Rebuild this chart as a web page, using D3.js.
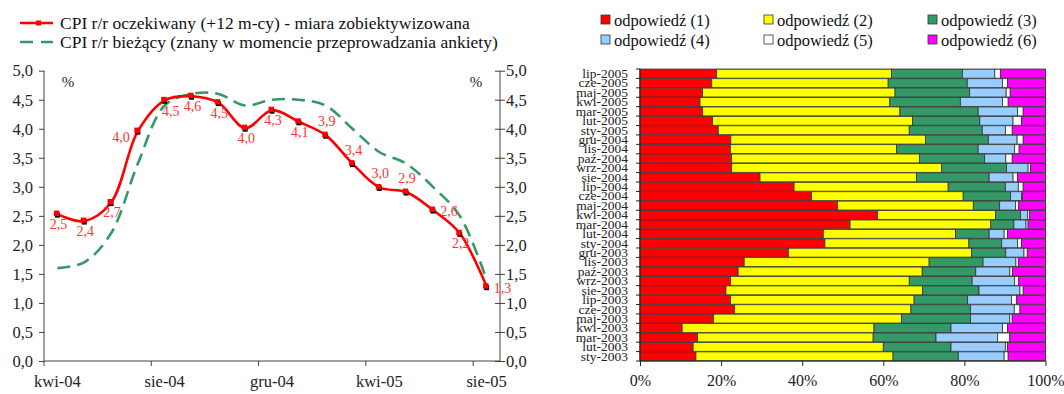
<!DOCTYPE html>
<html>
<head>
<meta charset="utf-8">
<script src="https://cdn.jsdelivr.net/npm/d3@7"></script>
<style>
  body { margin: 0; background: #fff; }
  svg { display: block; }
</style>
</head>
<body>
<svg id="chart" width="1064" height="394"></svg>
<script>
// left chart: CPI expectations
const months = ["kwi-04", "maj-04", "cze-04", "lip-04", "sie-04", "wrz-04", "paz-04", "lis-04",
  "gru-04", "sty-05", "lut-05", "mar-05", "kwi-05", "maj-05", "cze-05", "lip-05", "sie-05"];
const monthTicks = ["kwi-04", "sie-04", "gru-04", "kwi-05", "sie-05"];
const cpiExpected = [2.53, 2.41, 2.73, 3.96, 4.49, 4.56, 4.45, 4.01, 4.32, 4.12, 3.89, 3.4, 2.99, 2.91, 2.6, 2.2, 1.28];
const cpiCurrent = [1.6, 1.7, 2.2, 3.4, 4.4, 4.6, 4.6, 4.4, 4.5, 4.5, 4.4, 4.0, 3.6, 3.4, 3.0, 2.5, 1.4];
const labelPos = ["below", "below", "below", "left", "belowRight", "below", "below", "below",
  "below", "below", "above", "above", "above", "above", "right", "below", "right"];

// right chart: answers structure
const surveys = ["sty-2003", "lut-2003", "mar-2003", "kwi-2003", "maj-2003", "cze-2003", "lip-2003",
  "sie-2003", "wrz-2003", "paź-2003", "lis-2003", "gru-2003", "sty-2004", "lut-2004", "mar-2004",
  "kwi-2004", "maj-2004", "cze-2004", "lip-2004", "sie-2004", "wrz-2004", "paź-2004", "lis-2004",
  "gru-2004", "sty-2005", "lut-2005", "mar-2005", "kwi-2005", "maj-2005", "cze-2005", "lip-2005"];
const answerNames = ["odpowiedź (1)", "odpowiedź (2)", "odpowiedź (3)", "odpowiedź (4)", "odpowiedź (5)", "odpowiedź (6)"];
const ans1 = [13.8, 13.1, 14.2, 10.4, 18.1, 23.3, 22.3, 21.2, 22.3, 24.2, 25.7, 36.6, 45.6, 45.2, 51.8,
  58.6, 48.7, 42.3, 38.0, 29.6, 22.6, 22.6, 22.3, 22.4, 19.3, 17.9, 15.4, 14.8, 15.4, 17.7, 18.9];
const ans2 = [48.6, 46.9, 43.3, 47.3, 46.4, 43.5, 45.3, 48.5, 44.1, 45.4, 45.6, 45.2, 35.5, 32.6, 34.7,
  29.1, 33.5, 37.4, 38.0, 38.6, 51.8, 46.3, 41.0, 48.0, 47.1, 49.3, 48.7, 46.8, 47.5, 43.5, 43.1];
const ans3 = [16.1, 16.7, 15.5, 19.0, 17.0, 14.7, 13.2, 13.9, 15.5, 13.2, 13.3, 8.4, 8.1, 8.3, 5.7,
  6.1, 6.5, 11.7, 14.1, 17.9, 16.0, 16.1, 20.1, 15.5, 18.0, 16.6, 19.3, 17.4, 18.4, 19.5, 17.5];
const ans4 = [11.3, 13.4, 15.2, 12.7, 9.7, 10.8, 10.8, 10.1, 10.5, 8.4, 8.1, 4.5, 3.9, 3.7, 3.0,
  1.8, 3.9, 2.7, 3.2, 5.9, 5.3, 5.2, 9.0, 7.1, 5.7, 8.2, 9.7, 10.4, 9.0, 8.7, 8.0];
const ans5 = [1.0, 0.5, 3.0, 1.2, 0.6, 1.4, 1.3, 0.8, 1.0, 0.7, 0.6, 0.8, 1.0, 0.8, 0.5,
  0.5, 0.8, 0.2, 1.2, 1.1, 0.6, 1.6, 1.1, 1.5, 1.7, 2.1, 1.4, 1.4, 1.0, 1.2, 1.4];
const ans6 = [9.2, 9.4, 8.8, 9.4, 8.2, 6.3, 7.1, 5.5, 6.6, 8.1, 6.7, 4.5, 5.9, 9.4, 4.3,
  3.9, 6.6, 5.7, 5.5, 6.9, 3.7, 8.2, 6.5, 5.5, 8.2, 5.9, 5.5, 9.2, 8.7, 9.4, 11.1];
const answerColors = ["#ff0000", "#ffff00", "#339966", "#99ccff", "#ffffff", "#ff00ff"];
const pctTicks = [0, 0.2, 0.4, 0.6, 0.8, 1];

const FONT = '"Liberation Serif", serif';
const svg = d3.select("#chart");
const fmt = (v) => d3.format(".1f")(v).replace(".", ",");
const axisColor = "#404040";

// ---------- left chart ----------
const left = { x0: 44, x1: 500, top: 70.7, bottom: 361 };

const x = d3.scaleBand().domain(months).range([left.x0, left.x1]);
const y = d3.scaleLinear().domain([0, 5]).range([left.bottom, left.top]);

const gl = svg.append("g");

// y axes (left and right)
const yl = gl.append("g")
  .attr("transform", `translate(${left.x0},0)`)
  .call(d3.axisLeft(y).tickValues(d3.range(0, 5.01, 0.5)).tickSize(5).tickFormat(fmt));
const yr = gl.append("g")
  .attr("transform", `translate(${left.x1},0)`)
  .call(d3.axisRight(y).tickValues(d3.range(0, 5.01, 0.5)).tickSize(5).tickFormat(fmt));
yr.selectAll(".tick line").attr("x1", -5);
[yl, yr].forEach((g) => {
  g.select(".domain").attr("stroke", axisColor).attr("d", `M0,${left.top}V${left.bottom}`);
  g.selectAll(".tick line").attr("stroke", axisColor);
  g.selectAll("text").attr("fill", "#222").style("font-size", "16.5px");
});
yl.selectAll("text").attr("x", -11);
yr.selectAll("text").attr("x", 6);

// x axis
const xa = gl.append("g")
  .attr("transform", `translate(0,${left.bottom})`)
  .call(d3.axisBottom(x).tickValues(monthTicks).tickSize(0).tickPadding(14)
    .tickFormat((d) => d.replace("paz", "paź")));
xa.select(".domain").attr("stroke", axisColor).attr("d", `M${left.x0},0H${left.x1}`);
xa.selectAll("text").attr("fill", "#222").style("font-size", "16.5px");
gl.append("g")
  .selectAll("line")
  .data(monthTicks)
  .join("line")
  .attr("x1", (d) => x(d))
  .attr("x2", (d) => x(d))
  .attr("y1", left.bottom)
  .attr("y2", left.bottom + 5)
  .attr("stroke", axisColor);

// % labels
gl.append("text").attr("x", 68).attr("y", 87).attr("text-anchor", "middle")
  .style("font-size", "15px").attr("fill", "#222").text("%");
gl.append("text").attr("x", 476).attr("y", 87).attr("text-anchor", "middle")
  .style("font-size", "15px").attr("fill", "#222").text("%");

const cx = (i) => x(months[i]) + x.bandwidth() / 2;
const line = d3.line()
  .x((d, i) => cx(i))
  .y((d) => y(d))
  .curve(d3.curveCatmullRom.alpha(0.5));

gl.append("path")
  .attr("d", line(cpiCurrent))
  .attr("fill", "none")
  .attr("stroke", "#339966")
  .attr("stroke-width", 2.6)
  .attr("stroke-dasharray", "13,7");

gl.append("path")
  .attr("d", line(cpiExpected))
  .attr("fill", "none")
  .attr("stroke", "#ff0000")
  .attr("stroke-width", 2.6);

const markers = gl.append("g").selectAll("g").data(cpiExpected).join("g")
  .attr("transform", (d, i) => `translate(${cx(i)},${y(d)})`);
markers.append("rect").attr("x", -2.5).attr("y", -1.5).attr("width", 5).attr("height", 5).attr("fill", "#000");
markers.append("rect").attr("x", -3.5).attr("y", -3.5).attr("width", 5.5).attr("height", 5.5).attr("fill", "#ff0000");

const offsets = {
  below: [1, 15], left: [-17, 11], belowRight: [6, 16], above: [1, -9], right: [16, 6]
};
gl.append("g").selectAll("text").data(cpiExpected).join("text")
  .attr("x", (d, i) => cx(i) + offsets[labelPos[i]][0])
  .attr("y", (d, i) => y(d) + offsets[labelPos[i]][1])
  .attr("text-anchor", "middle")
  .attr("fill", "#ff3333")
  .style("font-size", "14px")
  .text((d) => fmt(d));

// left legend
const lg = svg.append("g");
lg.append("line").attr("x1", 20).attr("x2", 53).attr("y1", 23).attr("y2", 23)
  .attr("stroke", "#ff0000").attr("stroke-width", 2.6);
lg.append("rect").attr("x", 36).attr("y", 20.5).attr("width", 5).attr("height", 5).attr("fill", "#ff0000");
lg.append("line").attr("x1", 20).attr("x2", 53).attr("y1", 42).attr("y2", 42)
  .attr("stroke", "#339966").attr("stroke-width", 2.6).attr("stroke-dasharray", "13,8");
lg.append("text").attr("x", 60).attr("y", 28.5).style("font-size", "17.5px").attr("fill", "#111")
  .text("CPI r/r oczekiwany (+12 m-cy) - miara zobiektywizowana");
lg.append("text").attr("x", 60).attr("y", 47.5).style("font-size", "17.5px").attr("fill", "#111")
  .text("CPI r/r bieżący (znany w momencie przeprowadzania ankiety)");

// ---------- right chart ----------
const right = { x0: 640, x1: 1045.5, top: 69, bottom: 361 };

const rows = surveys.map((s, i) => ({
  survey: s,
  a0: ans1[i], a1: ans2[i], a2: ans3[i], a3: ans4[i], a4: ans5[i], a5: ans6[i]
}));
const keys = ["a0", "a1", "a2", "a3", "a4", "a5"];
const series = d3.stack().keys(keys).offset(d3.stackOffsetExpand)(rows);

const xr = d3.scaleLinear().domain([0, 1]).range([right.x0, right.x1]);
const yb = d3.scaleBand().domain([...surveys].reverse()).range([right.top, right.bottom])
  .paddingInner(0.06).paddingOuter(0.03);

const gr = svg.append("g");

gr.append("rect")
  .attr("x", right.x0).attr("y", right.top)
  .attr("width", right.x1 - right.x0).attr("height", right.bottom - right.top)
  .attr("fill", "none").attr("stroke", "#888").attr("stroke-width", 1);

gr.append("g")
  .selectAll("g")
  .data(series)
  .join("g")
  .attr("fill", (d, i) => answerColors[i])
  .selectAll("rect")
  .data((d) => d)
  .join("rect")
  .attr("x", (d) => xr(d[0]))
  .attr("width", (d) => xr(d[1]) - xr(d[0]))
  .attr("y", (d) => yb(d.data.survey))
  .attr("height", yb.bandwidth())
  .attr("stroke", "#333")
  .attr("stroke-width", 0.8);

const ya = gr.append("g")
  .attr("transform", `translate(${right.x0},0)`)
  .call(d3.axisLeft(yb).tickSize(0).tickPadding(12));
ya.select(".domain").attr("stroke", "#222").attr("d", `M0,${right.top}V${right.bottom}`);
ya.selectAll("text").attr("fill", "#222").style("font-size", "13.5px");
// tick marks between categories
gr.append("g").selectAll("line")
  .data(d3.range(surveys.length + 1))
  .join("line")
  .attr("x1", right.x0 - 4).attr("x2", right.x0)
  .attr("y1", (i) => right.top + i * (right.bottom - right.top) / surveys.length)
  .attr("y2", (i) => right.top + i * (right.bottom - right.top) / surveys.length)
  .attr("stroke", "#222");

const xba = gr.append("g")
  .attr("transform", `translate(0,${right.bottom})`)
  .call(d3.axisBottom(xr).tickValues(pctTicks).tickSize(5).tickPadding(9).tickFormat(d3.format(".0%")));
xba.select(".domain").attr("stroke", "#222").attr("d", `M${right.x0},0H${right.x1}`);
xba.selectAll(".tick line").attr("stroke", "#222");
xba.selectAll("text").attr("fill", "#222").style("font-size", "16px");

// right legend
const legendCols = [601, 764, 928];
const rl = gr.append("g").selectAll("g").data(answerNames).join("g")
  .attr("transform", (d, i) => `translate(${legendCols[i % 3]},${i < 3 ? 20 : 40})`);
rl.append("rect").attr("x", 0).attr("y", -5).attr("width", 9).attr("height", 9)
  .attr("fill", (d, i) => answerColors[i]).attr("stroke", "#333").attr("stroke-width", 0.8);
rl.append("text").attr("x", 13).attr("y", 5.5).style("font-size", "16.5px").attr("fill", "#111").text((d) => d);

svg.selectAll("text").style("font-family", FONT);
</script>
</body>
</html>
